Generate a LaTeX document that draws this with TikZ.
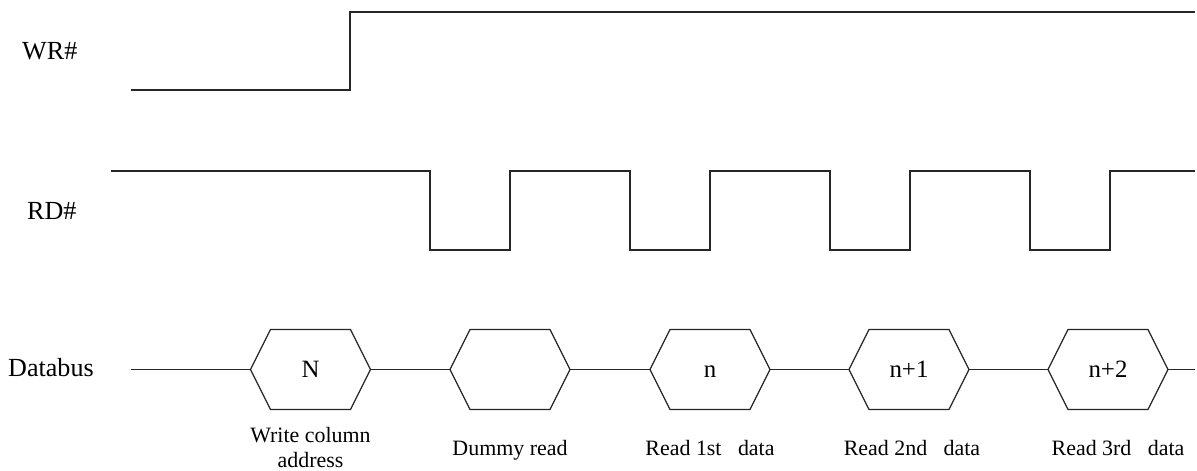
\documentclass[tikz,border=0pt]{standalone}
\usepackage{fontspec}
\setmainfont{Liberation Serif}
\begin{document}
\begin{tikzpicture}[x=1bp,y=-1bp,
  sig/.style={line width=1.2bp, line join=miter, color=black!85},
  siglabel/.style={font=\fontsize{26.2}{29}\selectfont, anchor=base west, inner sep=0pt},
  hextext/.style={font=\fontsize{25}{28}\selectfont, inner sep=0pt, anchor=base},
  note/.style={font=\fontsize{22}{24.5}\selectfont, anchor=base, inner sep=0pt, align=center},
  hexa/.pic={
    \draw[sig] (-60,0) -- (-40,-40) -- (40,-40) -- (60,0) -- (40,40) -- (-40,40) -- cycle;
    \coordinate (-l) at (-60,0);
    \coordinate (-r) at (60,0);
  }]
\useasboundingbox (0,0) rectangle (1197,471);

% labels
\node[siglabel] (wrl) at (22,60) {WR\#};
\node[siglabel] (rdl) at (27,219.5) {RD\#};
\node[siglabel] (dbl) at (8,377) {Databus};

% WR#
\draw[sig] (131,90) -- (350,90) -- (350,12) -- (1195,12);

% RD#
\draw[sig] (111,171) -- (430,171) -- (430,250) -- (510,250) -- (510,171)
  -- (630,171) -- (630,250) -- (710,250) -- (710,171)
  -- (830,171) -- (830,250) -- (910,250) -- (910,171)
  -- (1030,171) -- (1030,250) -- (1110,250) -- (1110,171) -- (1195,171);

% Databus
\coordinate (dbs) at (131,369.5);
\coordinate (dbe) at (1195,369.5);
\pic (h1) at (310.5,369.5) {hexa};
\pic (h2) at (510,369.5) {hexa};
\pic (h3) at (710,369.5) {hexa};
\pic (h4) at (909,369.5) {hexa};
\pic (h5) at (1108,369.5) {hexa};
\node[hextext] (t1) at (310.5,377.5) {N};
\node[hextext] (t3) at (710,377.5) {n};
\node[hextext] (t4) at (909,377.5) {n+1};
\node[hextext] (t5) at (1108,377.5) {n+2};
\draw[sig] (dbs) -- (h1-l);
\draw[sig] (h1-r) -- (h2-l);
\draw[sig] (h2-r) -- (h3-l);
\draw[sig] (h3-r) -- (h4-l);
\draw[sig] (h4-r) -- (h5-l);
\draw[sig] (h5-r) -- (dbe);

% notes
\node[note] (n1a) at (310.5,443) {Write column};
\node[note] (n1b) at (310.5,467.5) {address};
\node[note] (n2) at (510,456) {Dummy read};
\node[note] (n3) at (710,456) {Read 1st\ \ \ data};
\node[note] (n4) at (912,456) {Read 2nd\ \ \ data};
\node[note] (n5) at (1118,456) {Read 3rd\ \ \ data};
\end{tikzpicture}
\end{document}
